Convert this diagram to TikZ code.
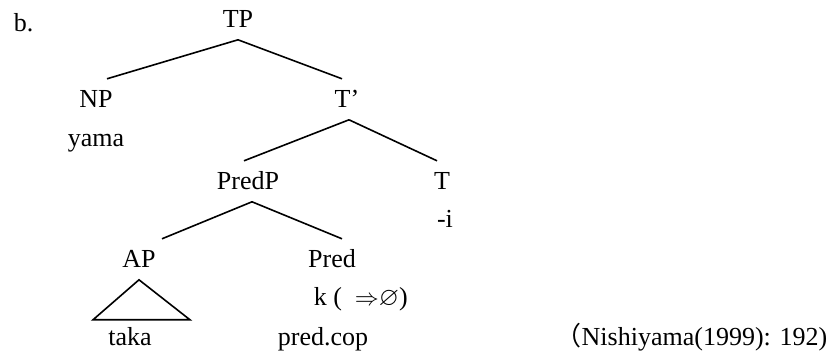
\documentclass[tikz,border=0pt]{standalone}
\usepackage{amssymb}
\usepackage{fontspec}
\setmainfont{Liberation Serif}
\newfontfamily\cjk{Noto Sans CJK JP}
\tikzset{
  cat/.style={anchor=base, inner xsep=0pt, inner ysep=5.5pt, text height=8.7pt, text depth=0pt},
  word/.style={anchor=base, inner sep=0pt},
}
\begin{document}
\begin{tikzpicture}[thick, x=0.5pt, y=-0.5pt, font=\fontsize{13}{15}\selectfont]
  \useasboundingbox (0,0) rectangle (832,358);
  \node[word, anchor=base west] (ex) at (13,32) {b.};
  \node[cat] (TP) at (238,28) {TP};
  \node[cat] (NP) at (96,108) {NP};
  \node[word] (yama) at (96,147) {yama};
  \node[cat] (Tbar) at (347,108) {T’};
  \node[cat] (PredP) at (248,190) {PredP};
  \node[cat] (T) at (442,190) {T};
  \node[word] (suffix) at (445,228) {-i};
  \node[cat] (AP) at (139,268) {AP};
  \node[cat] (Pred) at (332,268) {Pred};
  \node[word, anchor=base west] (cop) at (313,306) {k (\enspace$\mathord{\Rightarrow}\mathord{\varnothing}$)};
  \node[word] (taka) at (130,346) {taka};
  \node[word] (predcop) at (323,346) {pred.cop};
  \node[word, anchor=base east] (src) at (828,346) {{\cjk （}Nishiyama(1999): 192)};
  \draw (TP.south) -- ([xshift=5.5pt]NP.north);
  \draw (TP.south) -- ([xshift=-2.5pt]Tbar.north);
  \draw ([xshift=1pt]Tbar.south) -- ([xshift=-2pt]PredP.north);
  \draw ([xshift=1pt]Tbar.south) -- ([xshift=-2.5pt]T.north);
  \draw ([xshift=2pt]PredP.south) -- ([xshift=11.5pt]AP.north);
  \draw ([xshift=2pt]PredP.south) -- ([xshift=5pt]Pred.north);
  \draw (AP.south) -- ++(-46,40) -- ++(97,0) -- cycle;
\end{tikzpicture}
\end{document}
